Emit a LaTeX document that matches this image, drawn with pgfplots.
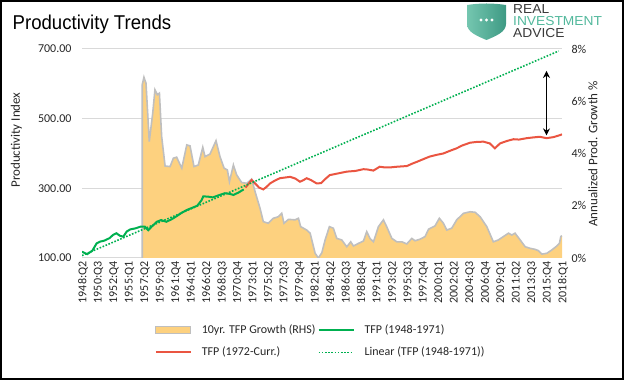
\documentclass[border=0pt]{standalone}
\usepackage{pgfplots}
\pgfplotsset{compat=1.18}
\usepackage{pgfplotstable}
\usepackage{fontspec}
\setmainfont{Carlito}
\newfontfamily\titlefont[FakeStretch=0.93]{Liberation Sans}
\newfontfamily\logofont[FakeStretch=1.06]{Liberation Sans}
\usetikzlibrary{arrows.meta}
\definecolor{areaor}{HTML}{FDD17F}
\definecolor{areagray}{HTML}{BFBFBF}
\definecolor{gridgray}{HTML}{D9D9D9}
\definecolor{tfpgreen}{HTML}{00B050}
\definecolor{tfpred}{HTML}{EA5541}
\definecolor{txtgray}{HTML}{262626}
\definecolor{logoteal}{HTML}{52B89C}
\definecolor{logotealdark}{HTML}{3E9A84}
\definecolor{logotext}{HTML}{3A3A3A}

\pgfplotsset{arealeg/.style={legend image code/.code={\draw[##1] (0pt,-3.5pt) rectangle (35pt,3.5pt);}}}

\pgfplotstableread{
x y
0 118
3 111
6 121
8.5 142
10.5 147
13 150
16 157
18 166
20 171
22 164
24 161
26 176
28 182
31 185
34 190
36.5 190
38.5 180
40.5 190
43.5 204
46 209
49 204
52 211
55 220
58 230
61 238
64 244
67 250
69.5 266
70.5 277
73.5 276
76 274
80 281
83 286
86 284
88 281
91 288
94 297
}\greenT

\pgfplotstableread{
x y
95 302
98.6 324
101 312
103 302
105.4 297
107 303
109.3 314
112 322
115 329
118 331
121 333
124 328
126.7 319
128.5 323
130.6 329
133 324
136.4 314
139 315
141 325
144 338
149 343
154 348
159 350
163.6 355
166 354
169.4 351
173 362
176 360
179 360
183 362
188.8 364
192 371
194.6 376
198 383
202 391
206 396
210 400
214 408
217.8 415
221 423
225.6 431
229 433
233.3 434
237 429
240 415
243 429
247 436
250.8 441
254 440
258.5 444
262 446
266 448
270 444
274 447
278 453
279 455
}\redT

\pgfplotstableread{
x y
0 107
277 694
}\linT

\pgfplotstableread{
x y
35 0
35 6.63
36 6.92
37.2 6.69
39.1 4.46
41.1 5.54
42.4 6.44
43.8 6.25
45 6.31
46.3 4.65
48.3 3.52
51.2 3.50
53.1 3.82
55 3.86
58 3.44
60.9 4.33
62.8 4.29
65.1 3.50
67.6 3.56
70.2 4.24
71.5 3.88
74.4 3.98
77.9 4.49
80.2 3.88
82.6 3.44
84.5 3.37
85.7 2.92
88 3.56
89.9 3.18
92.8 2.89
95.8 2.86
98.6 3.02
100.6 2.54
103.5 1.90
105.4 1.39
108.3 1.33
111.2 1.52
114.1 1.58
116.1 1.71
117.4 1.33
120 1.48
123.8 1.46
125.8 1.52
127.1 1.20
130.6 1.07
132.6 0.95
135.5 0.18
137.4 0
139.4 0.2
141.3 0.69
143.8 1.20
146.1 1.14
148.1 0.75
151 0.69
153.9 0.43
156.2 0.62
157.8 0.46
160.7 0.56
163.6 0.65
165.5 1.01
167.4 0.75
169.4 0.62
172.3 1.20
175.2 1.46
177.1 1.20
180.1 0.75
183 0.62
185.9 0.62
188.8 0.54
191.7 0.75
193.6 0.66
196.5 0.72
199.4 0.82
201.4 1.10
205.2 1.23
207.7 1.52
210.1 1.33
212 1.07
214.9 1.14
217.8 1.46
221.7 1.71
225.6 1.77
228.5 1.75
231.4 1.58
235.3 1.20
239.1 0.62
242 0.69
244.9 0.82
247.9 0.95
249.8 0.88
251.7 0.95
254.7 0.69
257.6 0.43
260.5 0.37
263.4 0.33
265.3 0.28
267.3 0.15
270.2 0.18
273.1 0.31
276 0.46
277.5 0.56
278.3 0.82
279 0.85
}\areaT

\begin{document}
\begin{tikzpicture}[x=1pt,y=1pt]
\path[use as bounding box] (0,0) rectangle (624,380);

% right axis with area and grid
\begin{axis}[
  at={(82pt,122pt)}, anchor=south west,
  width=480pt, height=209pt, scale only axis,
  xmin=0, xmax=279, ymin=0, ymax=8,
  axis x line=none, axis y line*=right,
  y axis line style={draw=none},
  ytick={0,2,4,6,8}, yticklabels={0\%,2\%,4\%,6\%,8\%},
  major tick length=0pt,
  yticklabel style={font=\fontsize{12}{14}\selectfont, text=txtgray, anchor=west, xshift=6pt},
  extra y ticks={0,2.666667,5.333333,8},
  extra y tick labels={},
  extra y tick style={grid=major, major grid style={gridgray, line width=1pt}},
]
\addplot[fill=areaor, draw=none] table {\areaT} \closedcycle;
\addplot[areagray, line width=1.6pt] table {\areaT};
\end{axis}

% left axis with lines
\begin{axis}[
  at={(82pt,122pt)}, anchor=south west,
  width=480pt, height=209pt, scale only axis,
  xmin=0, xmax=279, ymin=100, ymax=700,
  axis x line*=bottom, axis y line*=left,
  axis line style={draw=none},
  major tick length=0pt,
  ytick={100,300,500,700}, yticklabels={100.00,300.00,500.00,700.00},
  yticklabel style={font=\fontsize{12}{14}\selectfont, text=txtgray, xshift=-7pt},
  xtick={0,9,...,279},
  xticklabels={1948:Q2,1950:Q3,1952:Q4,1955:Q1,1957:Q2,1959:Q3,1961:Q4,1964:Q1,1966:Q2,1968:Q3,1970:Q4,1973:Q1,1975:Q2,1977:Q3,1979:Q4,1982:Q1,1984:Q2,1986:Q3,1988:Q4,1991:Q1,1993:Q2,1995:Q3,1997:Q4,2000:Q1,2002:Q2,2004:Q3,2006:Q4,2009:Q1,2011:Q2,2013:Q3,2015:Q4,2018:Q1},
  xticklabel style={font=\fontsize{12}{14}\selectfont, text=txtgray, rotate=90, anchor=east, yshift=-1pt},
  legend columns=2,
  legend cell align=left,
  legend style={at={(0.145,-0.30)}, anchor=north west, draw=none, fill=none,
    font=\fontsize{12}{14}\selectfont, text=txtgray, row sep=8pt,
    /tikz/every odd column/.append style={column sep=8pt}},
  legend image code/.code={\draw[#1] (0pt,0pt) -- (35pt,0pt);},
]
\addlegendimage{areagray, line width=1.2pt, fill=areaor, arealeg}
\addlegendentry{10yr. TFP Growth (RHS)}
\addplot[tfpgreen, line width=2pt] table {\greenT};
\addlegendentry{TFP (1948-1971)}
\addplot[tfpred, line width=2pt] table {\redT};
\addlegendentry{TFP (1972-Curr.)}
\addplot[tfpgreen, line width=1.6pt, dash pattern=on 1.6pt off 1.6pt] table {\linT};
\addlegendentry{Linear (TFP (1948-1971))}
\draw[black, line width=1.6pt, {Stealth[length=7pt,width=7pt]}-{Stealth[length=7pt,width=7pt]}] (axis cs:270,637) -- (axis cs:270,452);
\end{axis}

% title and axis labels
\node[anchor=base west, inner sep=0pt, font=\titlefont\fontsize{20}{24}\selectfont] at (12.5,350.5) {Productivity Trends};
\node[rotate=90, inner sep=0pt, text=txtgray, font=\fontsize{13}{15}\selectfont] at (16.5,240) {Productivity Index};
\node[rotate=90, inner sep=0pt, text=txtgray, font=\fontsize{13}{15}\selectfont] at (593,226) {Annualized Prod. Growth \%};

% logo
\shade[left color=logoteal!80!white, right color=logotealdark]
  (467,375) .. controls (480,377) and (493,377) .. (506,375)
  -- (506,356) .. controls (506,348) and (496,344) .. (486.5,340)
  .. controls (477,344) and (467,348) .. (467,356) -- cycle;
\fill[white] (481,360) circle (1.7) (486.5,360) circle (1.7) (492,360) circle (1.7);
\node[anchor=north west, inner sep=0pt, align=left, font=\logofont\fontsize{13}{11.7}\selectfont] at (513,375.5)
  {\textcolor{logotext}{REAL}\\\textcolor{logoteal}{INVESTMENT}\\\textcolor{logotext}{ADVICE}};

% frame
\draw[black, line width=2pt] (1,1) rectangle (623,379);
\end{tikzpicture}
\end{document}
